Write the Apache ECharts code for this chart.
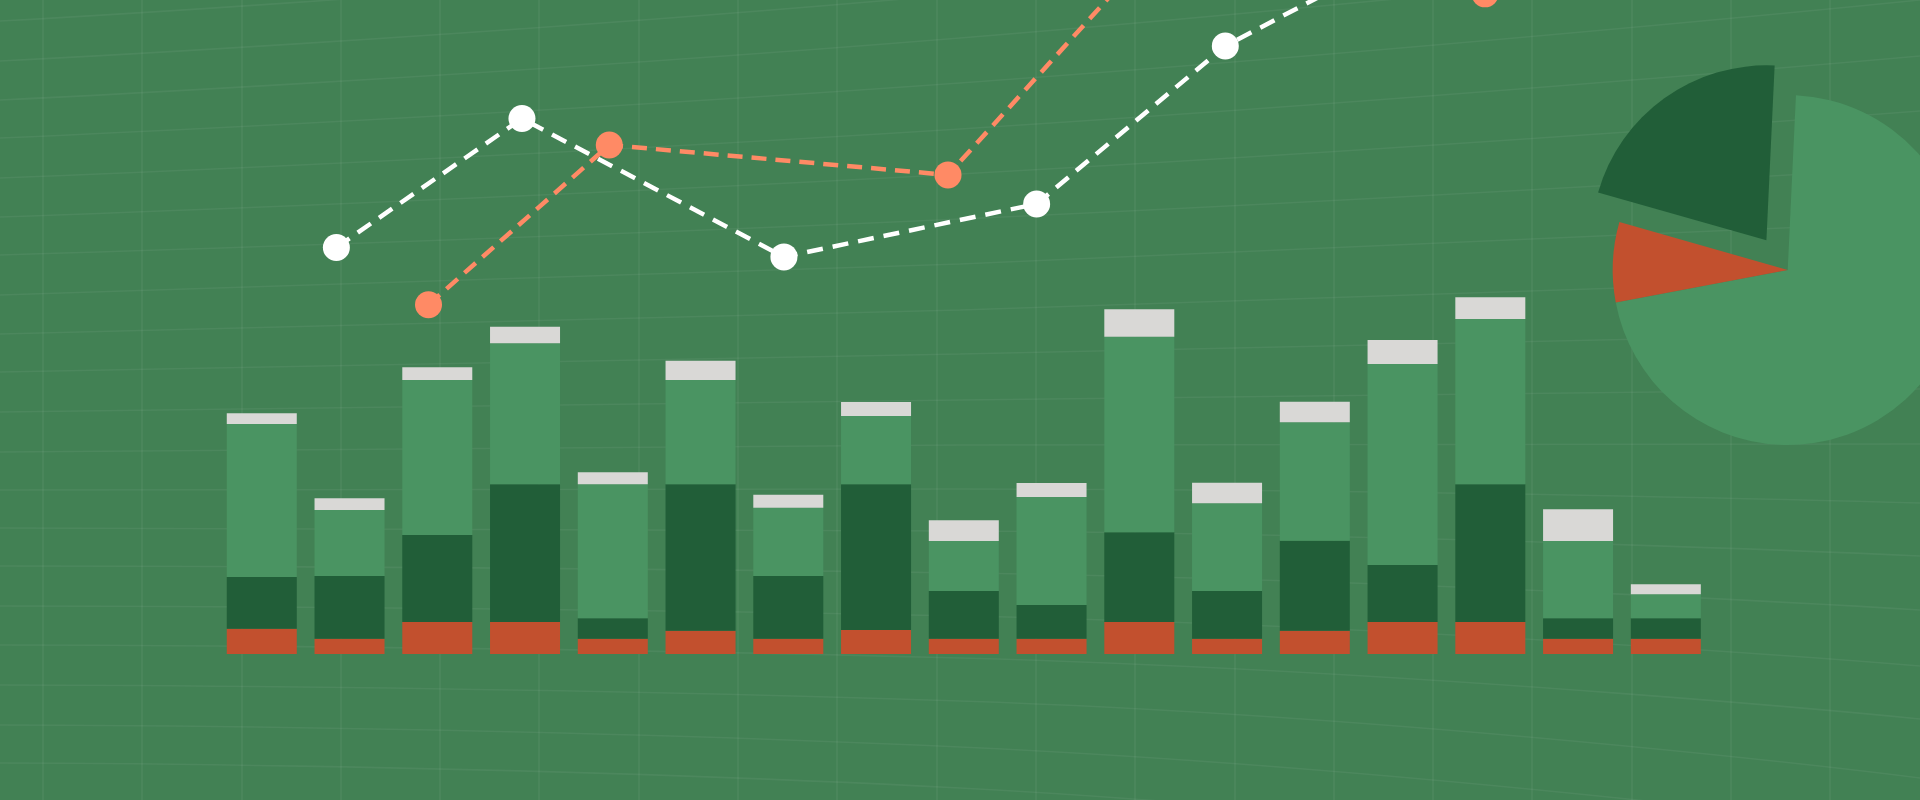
<!DOCTYPE html>
<html>
<head>
<meta charset="utf-8">
<script src="https://cdn.jsdelivr.net/npm/echarts@6/dist/echarts.min.js"></script>
<style>
html,body{margin:0;padding:0;background:#428154;}
#chart{width:1920px;height:800px;}
</style>
</head>
<body>
<div id="chart"></div>
<script>
// ---- data ----
const categories = ['1','2','3','4','5','6','7','8','9','10','11','12','13','14','15','16','17'];
const redSeg   = [2.96, 1.79, 3.75, 3.75, 1.79, 2.73, 1.79, 2.81, 1.79, 1.79, 3.75, 1.79, 2.73, 3.75, 3.75, 1.79, 1.79];
const darkSeg  = [6.05, 7.34, 10.19, 16.12, 2.39, 17.14, 7.34, 17.06, 5.59, 3.95, 10.5, 5.59, 10.54, 6.67, 16.12, 2.39, 2.39];
const lightSeg = [17.92, 7.73, 18.15, 16.51, 15.69, 12.21, 8.0, 8.0, 5.85, 12.65, 22.9, 10.27, 13.86, 23.54, 19.36, 9.05, 2.81];
const capSeg   = [1.25, 1.37, 1.49, 1.94, 1.41, 2.26, 1.52, 1.64, 2.42, 1.64, 3.21, 2.41, 2.41, 2.81, 2.54, 3.71, 1.17];

const whiteLineX = [0.85, 2.965, 5.95, 8.83, 10.98, 12.99];
const whiteLineY = [47.6, 62.7, 46.5, 52.7, 71.2, 82.0];
const orangeLineX = [1.9, 3.96, 7.82, 10.46, 13.94];
const orangeLineY = [40.9, 59.6, 56.1, 86.0, 77.3];

const pieNames  = ['Dark', 'Light', 'Red'];
const pieValues = [76.8, 256.6, 26.6];

// background perspective lines (y at left edge, middle, right edge of the picture)
const bgLeftY  = [21, 61, 100, 138, 178, 217, 255, 295, 334, 372, 412, 452, 490, 528, 566, 606, 645, 685, 725, 763];
const bgMidY   = [-52, -6, 38, 83, 129, 174, 219, 264, 310, 354, 400, 445, 489, 531, 573, 616, 658, 701, 747, 788];
const bgRightY = [-167, -111, -56, 0, 56, 111, 167, 222, 278, 333, 389, 444, 503, 556, 610, 666, 719, 778, 833, 888];

// ---- colors ----
const C = {
  bg: '#428154', red: '#c2502e', dark: '#215e38', light: '#4a9462', cap: '#d9d8d6',
  white: '#ffffff', orange: '#ff8a65', grid: 'rgba(255,255,255,0.055)'
};

const chart = echarts.init(document.getElementById('chart'), null, {renderer: 'canvas'});

const bgSeries = bgLeftY.map((yl, i) => ({
  type: 'line', xAxisIndex: 1, yAxisIndex: 1, silent: true, smooth: true,
  symbol: 'none', z: 1, clip: false,
  lineStyle: {color: C.grid, width: 1.6},
  data: [[0, yl], [960, bgMidY[i]], [1920, bgRightY[i]]]
}));

function barSeries(name, data, color) {
  return {
    name, type: 'bar', stack: 'total', xAxisIndex: 2, yAxisIndex: 2,
    barWidth: 70, data, itemStyle: {color}, z: 3, silent: true
  };
}

function lineSeries(name, xs, ys, color, dash) {
  return {
    name, type: 'line', xAxisIndex: 3, yAxisIndex: 2, z: 5, silent: true, clip: false,
    symbol: 'circle', symbolSize: 27,
    itemStyle: {color, borderWidth: 0},
    lineStyle: {color, width: 4.5, type: dash},
    data: xs.map((x, i) => [x, ys[i]])
  };
}

const option = {
  backgroundColor: C.bg,
  animation: false,
  grid: [
    {left: 42.7, right: 89.9, top: 0, bottom: 0},
    {left: 0, right: 0, top: 0, bottom: 0},
    {left: 217.9, right: 210.3, top: 0, bottom: 146}
  ],
  xAxis: [
    {type: 'value', gridIndex: 0, min: 0, max: 18, interval: 1,
     axisLine: {show: false}, axisTick: {show: false}, axisLabel: {show: false},
     splitLine: {show: true, lineStyle: {color: C.grid, width: 1.6}}},
    {type: 'value', gridIndex: 1, min: 0, max: 1920, show: false},
    {type: 'category', gridIndex: 2, data: categories, boundaryGap: true, show: false},
    {type: 'value', gridIndex: 2, min: -0.5, max: 16.5, show: false}
  ],
  yAxis: [
    {type: 'value', gridIndex: 0, min: 0, max: 1, show: false},
    {type: 'value', gridIndex: 1, min: 0, max: 800, inverse: true, show: false},
    {type: 'value', gridIndex: 2, min: 0, max: 76.58, show: false}
  ],
  series: [
    ...bgSeries,
    barSeries('Red', redSeg, C.red),
    barSeries('Dark', darkSeg, C.dark),
    barSeries('Light', lightSeg, C.light),
    barSeries('Cap', capSeg, C.cap),
    lineSeries('White', whiteLineX, whiteLineY, C.white, [16, 10]),
    lineSeries('Orange', orangeLineX, orangeLineY, C.orange, [15, 9]),
    {
      type: 'pie', center: [1787.7, 270], radius: 175, startAngle: 164.1, clockwise: true,
      selectedMode: 'single', selectedOffset: 36.5, silent: true, z: 4,
      label: {show: false}, labelLine: {show: false},
      emphasis: {disabled: true},
      data: pieNames.map((n, i) => {
        const col = [C.dark, C.light, C.red][i];
        return {
          name: n, value: pieValues[i], selected: i === 0,
          itemStyle: {color: col, borderWidth: 0},
          select: {itemStyle: {color: col, borderWidth: 0}}
        };
      })
    }
  ]
};
chart.setOption(option);
</script>
</body>
</html>
